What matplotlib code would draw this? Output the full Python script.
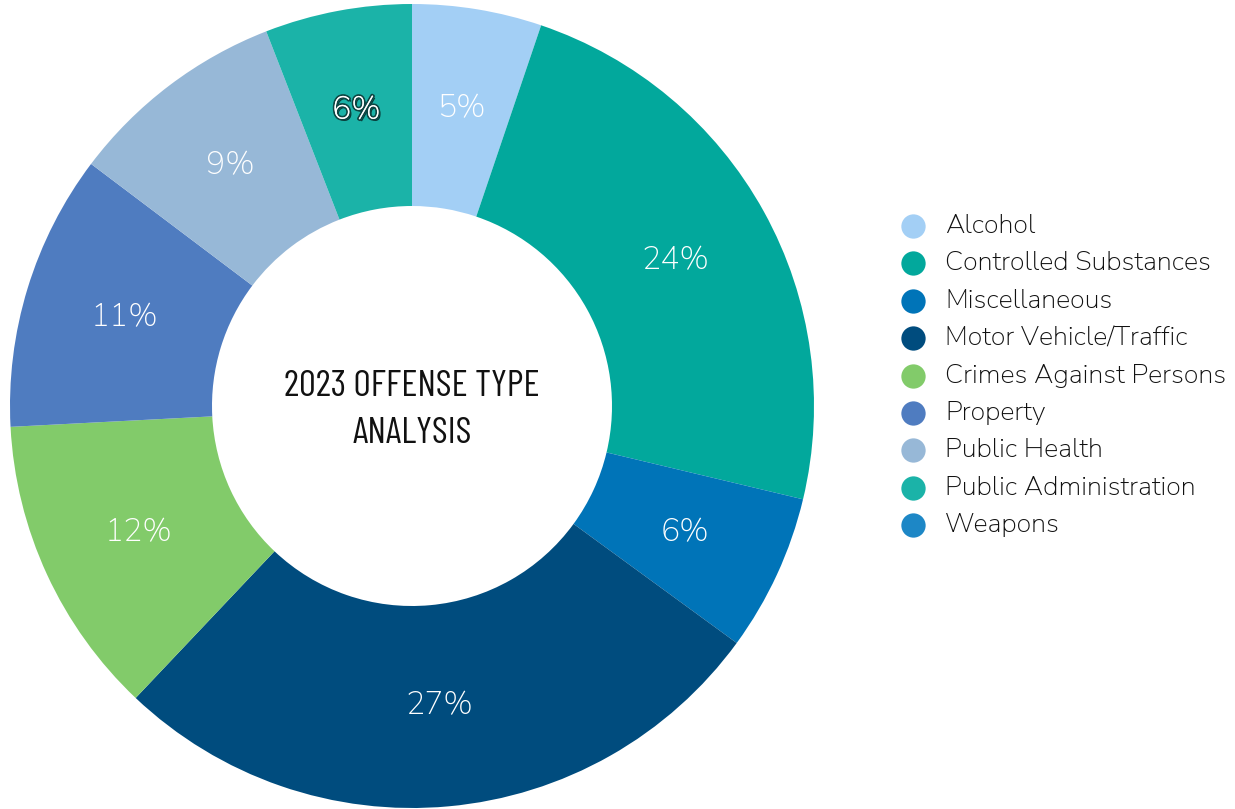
import matplotlib
matplotlib.use("Agg")
import matplotlib.pyplot as plt
import matplotlib.patheffects as pe
from matplotlib.lines import Line2D
import numpy as np

categories = ["Alcohol", "Controlled Substances", "Miscellaneous", "Motor Vehicle/Traffic",
              "Crimes Against Persons", "Property", "Public Health", "Public Administration", "Weapons"]
values = [5.2, 23.5, 6.3, 27.0, 12.1, 11.1, 8.8, 5.9, 0.0]
labels = ["5%", "24%", "6%", "27%", "12%", "11%", "9%", "6%", ""]
colors = ["#A3CFF5", "#02A89C", "#0074B8", "#004C7E", "#82CB6A", "#4F7CC0", "#97B8D7", "#1BB3A8", "#1D87C6"]
title = "2023 OFFENSE TYPE\nANALYSIS"

label_font = ["Nunito Sans", "Open Sans", "DejaVu Sans"]
title_font = ["Barlow Condensed", "Roboto Condensed", "DejaVu Sans"]

W, H = 1235, 809
fig = plt.figure(figsize=(W / 100, H / 100), dpi=100)
cx, cy, R = 412, 406, 402
ax = fig.add_axes([(cx - R) / W, (H - cy - R) / H, 2 * R / W, 2 * R / H])

inner = 200 / R
wedges, _ = ax.pie(values, colors=colors, startangle=90, counterclock=False, radius=1,
                   wedgeprops=dict(width=1 - inner, linewidth=0))
ax.set_xlim(-1, 1)
ax.set_ylim(-1, 1)
ax.set_aspect("equal")
ax.axis("off")

total = sum(values)
cum = 0
rlab = (1 + inner) / 2
for i, (v, lab) in enumerate(zip(values, labels)):
    mid = cum + v / 2
    cum += v
    if not lab:
        continue
    ang = np.deg2rad(90 - 360 * mid / total)
    x, y = rlab * np.cos(ang), rlab * np.sin(ang)
    t = ax.text(x, y, lab, ha="center", va="center", color="white", fontsize=23,
                family=label_font, fontweight="normal")
    if categories[i] == "Public Administration":
        t.set_path_effects([pe.withSimplePatchShadow(offset=(1.5, -1.5), shadow_rgbFace="#062e2c", alpha=0.9),
                            pe.withStroke(linewidth=2.5, foreground="#0d4542"), pe.Normal()])

ax.text(0, -0.01, title, ha="center", va="center", fontsize=27, family=title_font,
        fontweight="normal", color="#111111", linespacing=1.55)

# legend
y0, dy = 226, 37.4
for i, (c, name) in enumerate(zip(colors, categories)):
    yy = 1 - (y0 + i * dy) / H
    fig.add_artist(Line2D([913 / W], [yy], marker="o", markersize=17.5, color=c,
                          markeredgewidth=0, linestyle="none", transform=fig.transFigure))
    fig.text(945 / W, yy, name, ha="left", va="center", fontsize=19.5, family=label_font,
             color="#111111")

fig.savefig("out.png", dpi=100)
